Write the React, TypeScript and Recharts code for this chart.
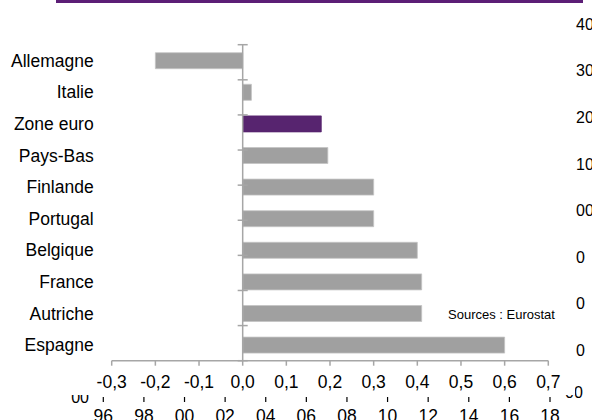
import React from "react";
import {
  BarChart,
  Bar,
  Cell,
  LineChart,
  XAxis,
  YAxis,
  ReferenceLine,
} from "recharts";

// main chart
const countries = [
  "Allemagne",
  "Italie",
  "Zone euro",
  "Pays-Bas",
  "Finlande",
  "Portugal",
  "Belgique",
  "France",
  "Autriche",
  "Espagne",
];
const values = [-0.2, 0.02, 0.18, 0.195, 0.3, 0.3, 0.4, 0.41, 0.41, 0.6];
const xTicks = [-0.3, -0.2, -0.1, 0, 0.1, 0.2, 0.3, 0.4, 0.5, 0.6, 0.7];
const highlight = "Zone euro";

// chart partly hidden behind
const years = ["96", "98", "00", "02", "04", "06", "08", "10", "12", "14", "16", "18"];
const rightLabels = ["00", "0", "0", "0", "00", "10", "20", "30", "40"]; // bottom to top
const leftLabel = "00";

const FONT = '"Liberation Sans", Arial, sans-serif';
const GRAY = "#a6a6a6";
const PURPLE = "#57246f";

const fmt = (v: number) => (Math.abs(v) < 1e-9 ? 0 : v).toFixed(1).replace(".", ",");

export default function App() {
  const data = countries.map((c, i) => ({ country: c, value: values[i] }));
  const yrData = years.map((y) => ({ yr: y }));
  const edges = Array.from({ length: countries.length + 1 }, (_, i) => i);
  // back chart plot area: top 24, bottom 397
  const step = (397 - 24) / (rightLabels.length - 1);

  return (
    <div
      style={{
        position: "absolute",
        left: 0,
        top: 0,
        width: 592,
        height: 420,
        overflow: "hidden",
        background: "#fff",
        fontFamily: FONT,
      }}
    >
      {/* background chart */}
      <div style={{ position: "absolute", left: 0, top: 0 }}>
        <LineChart
          width={592}
          height={420}
          data={yrData}
          margin={{ top: 24, right: 42, bottom: 3, left: 103.3 }}
        >
          <XAxis
            dataKey="yr"
            type="category"
            scale="point"
            interval={0}
            height={20}
            axisLine={false}
            tickLine={{ stroke: "#000", strokeWidth: 1.2 }}
            stroke="#000"
            tickSize={5}
            tickMargin={8}
            tick={{ fill: "#000", fontSize: 17.5, fontFamily: FONT }}
          />
        </LineChart>
      </div>
      <svg
        width={592}
        height={420}
        style={{ position: "absolute", left: 0, top: 0 }}
        fontFamily={FONT}
      >
        {rightLabels.map((t, i) => (
          <text
            key={i}
            x={i === 0 ? 565 : 576}
            y={i === 0 ? 392 : 397 - i * step}
            dy="0.355em"
            fontSize={16}
            fill="#000"
          >
            {t}
          </text>
        ))}
        <text x={89} y={397} dy="0.355em" fontSize={16} fill="#000" textAnchor="end">
          {leftLabel}
        </text>
      </svg>
      <div
        style={{
          position: "absolute",
          left: 56,
          top: 0,
          width: 527,
          height: 2.5,
          background: "#5c1e76",
        }}
      />

      {/* main chart */}
      <div
        style={{
          position: "absolute",
          left: 0,
          top: 3,
          width: 575,
          height: 392,
          background: "#fff",
        }}
      >
        <BarChart
          width={575}
          height={392}
          data={data}
          layout="vertical"
          margin={{ top: 41.7, right: 26.7, bottom: 4.3, left: 0 }}
        >
          <XAxis
            type="number"
            domain={[-0.3, 0.7]}
            ticks={xTicks}
            interval={0}
            height={30}
            tickFormatter={fmt}
            axisLine={{ stroke: GRAY, strokeWidth: 1.5 }}
            tickLine={{ stroke: GRAY, strokeWidth: 1.5 }}
            tickSize={5}
            tickMargin={10}
            tick={{ fill: "#000", fontSize: 17.5, fontFamily: FONT }}
          />
          <YAxis
            yAxisId="cat"
            type="category"
            dataKey="country"
            width={111.7}
            axisLine={false}
            tickLine={false}
            tickSize={0}
            tickMargin={18}
            interval={0}
            tick={{ fill: "#000", fontSize: 17.5, fontFamily: FONT }}
          />
          <YAxis yAxisId="grid" type="number" domain={[0, 10]} hide />
          <Bar
            dataKey="value"
            yAxisId="cat"
            barSize={16}
            strokeWidth={0.8}
            isAnimationActive={false}
          >
            {data.map((d) => (
              <Cell
                key={d.country}
                fill={d.country === highlight ? PURPLE : "#a0a0a0"}
                stroke={d.country === highlight ? PURPLE : "#c4c4c4"}
              />
            ))}
          </Bar>
          <ReferenceLine x={0} yAxisId="cat" stroke={GRAY} strokeWidth={1.5} />
          {edges.map((k) => (
            <ReferenceLine
              key={k}
              yAxisId="grid"
              segment={[
                { x: -0.0115, y: k },
                { x: 0.0115, y: k },
              ]}
              stroke={GRAY}
              strokeWidth={1.5}
            />
          ))}
        </BarChart>
        <div
          style={{
            position: "absolute",
            left: 448,
            top: 304,
            fontSize: 13,
            color: "#000",
            whiteSpace: "pre",
          }}
        >
          Sources : Eurostat
        </div>
      </div>
    </div>
  );
}
